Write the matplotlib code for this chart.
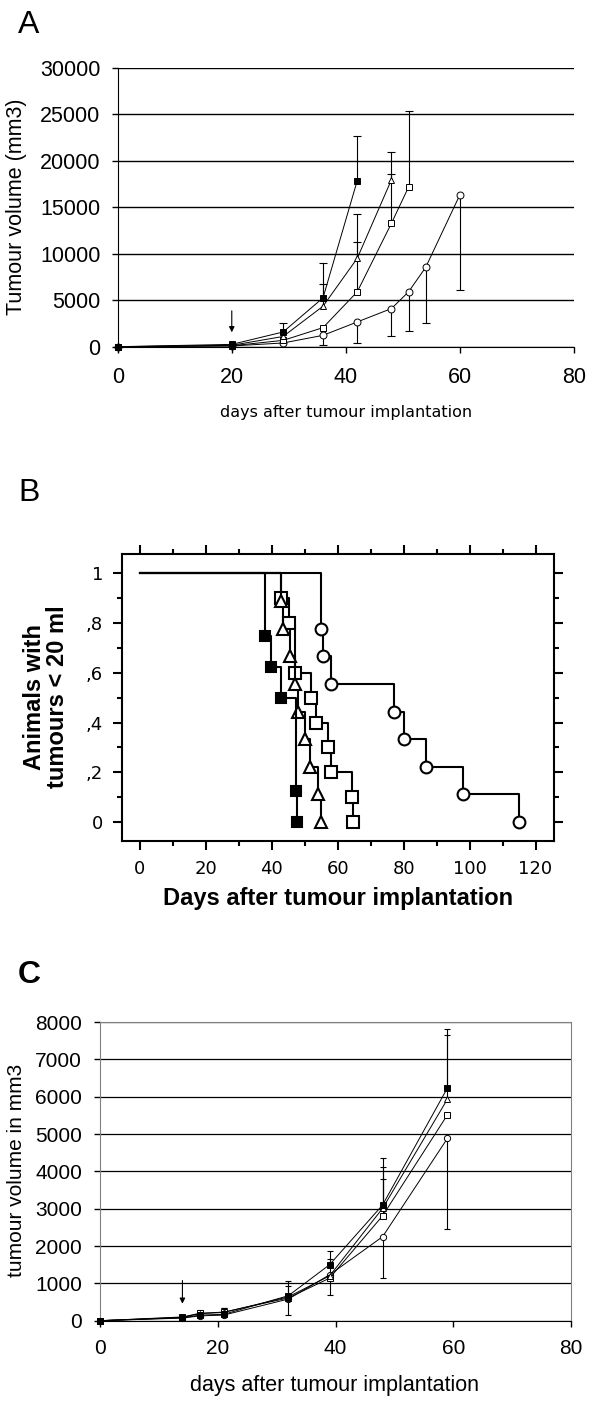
import matplotlib.pyplot as plt
import numpy as np

plt.rcParams['font.family'] = ['Liberation Sans', 'DejaVu Sans']

# ---------------- panel A: tumour volume ----------------
a_days_fill = [0, 20, 29, 36, 42]
a_vol_fill = [0, 250, 1580, 5250, 17850]
a_up_fill = [0, 0, 970, 3710, 4790]

a_days_tri = [0, 20, 29, 36, 42, 48]
a_vol_tri = [0, 150, 1100, 4350, 9500, 17950]
a_up_tri = [0, 0, 0, 2350, 4750, 2950]

a_days_sq = [0, 20, 29, 36, 42, 48, 51]
a_vol_sq = [0, 100, 680, 2050, 5900, 13270, 17160]
a_up_sq = [0, 0, 0, 0, 5400, 5290, 8130]

a_days_circ = [0, 20, 29, 36, 42, 48, 51, 54, 60]
a_vol_circ = [0, 80, 400, 1220, 2660, 4100, 5900, 8530, 16330]
a_low_circ = [0, 0, 0, 1080, 2230, 2990, 4250, 5980, 10250]

a_treat_day = 20
a_arrow = (4150, 1250)

# ---------------- panel B: Kaplan-Meier ----------------
b_t_fill = [38, 39.8, 42.8, 47.3, 47.7]
b_s_fill = [0.75, 0.625, 0.5, 0.125, 0]
b_t_tri = [42.8, 43.3, 45.4, 47.1, 47.8, 50, 51.7, 54, 54.8]
b_s_tri = [0.889, 0.778, 0.667, 0.556, 0.444, 0.333, 0.222, 0.111, 0]
b_t_sq = [42.8, 45.2, 46.9, 52, 53.3, 56.9, 58.1, 64.2, 64.7]
b_s_sq = [0.9, 0.8, 0.6, 0.5, 0.4, 0.3, 0.2, 0.1, 0]
b_t_circ = [55, 55.6, 58.1, 77, 80, 86.9, 97.9, 114.9]
b_s_circ = [0.778, 0.667, 0.556, 0.444, 0.333, 0.222, 0.111, 0]
b_yticks = [0, 0.2, 0.4, 0.6, 0.8, 1]
b_yticklabels = ['0', ',2', ',4', ',6', ',8', '1']

# ---------------- panel C: tumour volume ----------------
c_days = [0, 14, 17, 21, 32, 39, 48, 59]
c_vol_fill = [0, 80, 150, 170, 670, 1500, 3100, 6230]
c_up_fill = [0, 0, 120, 160, 400, 380, 1250, 1580]
c_vol_tri = [0, 90, 190, 220, 640, 1200, 3010, 5930]
c_up_tri = [0, 0, 100, 130, 280, 460, 1100, 1710]
c_vol_sq = [0, 100, 200, 230, 610, 1140, 2810, 5510]
c_up_sq = [0, 0, 0, 0, 0, 0, 980, 0]
c_vol_circ = [0, 70, 130, 150, 580, 1230, 2250, 4880]
c_low_circ = [0, 0, 0, 0, 440, 530, 1110, 2420]

c_treat_day = 14
c_arrow = (1150, 380)

W, H = 600, 1406


def box(left, top, right, bottom):
    return [left / W, 1 - bottom / H, (right - left) / W, (bottom - top) / H]


def series(ax, x, y, low, up, marker, face, ms=5, cap=3):
    x, y = np.array(x), np.array(y)
    low, up = np.array(low), np.array(up)
    k = (low > 0) | (up > 0)
    ax.vlines(x[k], y[k] - low[k], y[k] + up[k], color='k', lw=0.8, zorder=2)
    ku, kl = up > 0, low > 0
    ax.plot(x[ku], y[ku] + up[ku], ls='none', marker='_', ms=cap * 2, mew=0.8, color='k', zorder=2)
    ax.plot(x[kl], y[kl] - low[kl], ls='none', marker='_', ms=cap * 2, mew=0.8, color='k', zorder=2)
    ax.plot(x, y, color='k', lw=0.7, marker=marker, mfc=face, mec='k', ms=ms, mew=0.7,
            clip_on=False, zorder=3)


fig = plt.figure(figsize=(6, 14.06), dpi=100)

# panel A
ax = fig.add_axes(box(117.7, 67.5, 574, 346.7))
series(ax, a_days_circ, a_vol_circ, a_low_circ, [0] * len(a_days_circ), 'o', 'white')
series(ax, a_days_sq, a_vol_sq, [0] * len(a_days_sq), a_up_sq, 's', 'white')
series(ax, a_days_tri, a_vol_tri, [0] * len(a_days_tri), a_up_tri, '^', 'white')
series(ax, a_days_fill, a_vol_fill, [0] * len(a_days_fill), a_up_fill, 's', 'black')
ax.annotate('', xy=(a_treat_day, a_arrow[1]), xytext=(a_treat_day, a_arrow[0]),
            arrowprops=dict(arrowstyle='-|>', color='k', lw=0.8, mutation_scale=8))
ax.set_xlim(0, 80)
ax.set_ylim(0, 30000)
ax.set_xticks([0, 20, 40, 60, 80])
ax.set_yticks(range(0, 30001, 5000))
ax.grid(axis='y', color='k', lw=1)
ax.set_axisbelow(True)
for s in ['top', 'right']:
    ax.spines[s].set_visible(False)
ax.tick_params(direction='out', length=4, width=1, labelsize=15.5)
ax.tick_params(axis='x', pad=10.5)
ax.tick_params(axis='y', pad=8.5)
fig.text(17 / W, 1 - 207 / H, 'Tumour volume (mm3)', rotation=90, ha='center', va='center', fontsize=15.5)
fig.text(346 / W, 1 - 412 / H, 'days after tumour implantation', ha='center', va='center',
         fontsize=11.5, family='DejaVu Sans')
fig.text(29 / W, 1 - 25 / H, 'A', ha='center', va='center', fontsize=23)

# panel B
ax = fig.add_axes(box(121.7, 554, 554.3, 841))
for t, s, m, f, ms in [(b_t_circ, b_s_circ, 'o', 'white', 8.5),
                       (b_t_sq, b_s_sq, 's', 'white', 8.5),
                       (b_t_tri, b_s_tri, '^', 'white', 8.5),
                       (b_t_fill, b_s_fill, 's', 'black', 7.5)]:
    ax.step([0] + t, [1] + s, where='post', color='k', lw=1.5)
    ax.plot(t, s, ls='none', marker=m, mfc=f, mec='k', ms=ms, mew=1.5)
ax.set_xlim(-5.55, 125.7)
ax.set_ylim(-0.076, 1.078)
ax.set_xticks(range(0, 121, 20))
ax.set_xticks(range(10, 121, 20), minor=True)
ax.set_yticks(b_yticks)
ax.set_yticklabels(b_yticklabels)
ax.set_yticks(np.arange(0.1, 1.0, 0.2), minor=True)
for s in ax.spines.values():
    s.set_linewidth(1.5)
ax.tick_params(which='both', direction='out', top=True, right=True, width=1.5,
               labelsize=13, labelfontfamily='DejaVu Sans')
ax.tick_params(which='major', length=6.5, pad=7)
ax.tick_params(which='minor', length=3.4)
fig.text(338 / W, 1 - 898 / H, 'Days after tumour implantation', ha='center', va='center',
         fontsize=17, fontweight='bold')
fig.text(46.5 / W, 1 - 697 / H, 'Animals with\ntumours < 20 ml', rotation=90, ha='center',
         va='center', fontsize=17, fontweight='bold', linespacing=1.0)
fig.text(29 / W, 1 - 493 / H, 'B', ha='center', va='center', fontsize=23)

# panel C
ax = fig.add_axes(box(100, 1022, 571, 1320.7))
series(ax, c_days, c_vol_circ, c_low_circ, [0] * len(c_days), 'o', 'white', ms=4.5, cap=2.5)
series(ax, c_days, c_vol_sq, [0] * len(c_days), c_up_sq, 's', 'white', ms=4.5, cap=2.5)
series(ax, c_days, c_vol_tri, [0] * len(c_days), c_up_tri, '^', 'white', ms=4.5, cap=2.5)
series(ax, c_days, c_vol_fill, [0] * len(c_days), c_up_fill, 's', 'black', ms=4.5, cap=2.5)
ax.annotate('', xy=(c_treat_day, c_arrow[1]), xytext=(c_treat_day, c_arrow[0]),
            arrowprops=dict(arrowstyle='-|>', color='k', lw=0.8, mutation_scale=8))
ax.set_xlim(0, 80)
ax.set_ylim(0, 8000)
ax.set_xticks([0, 20, 40, 60, 80])
ax.set_yticks(range(0, 8001, 1000))
ax.grid(axis='y', color='k', lw=0.9)
ax.set_axisbelow(True)
for s in ['top', 'right', 'left']:
    ax.spines[s].set_color('#808080')
ax.tick_params(direction='out', length=4.5, width=1, labelsize=15)
ax.tick_params(axis='x', pad=8.5)
ax.tick_params(axis='y', pad=8.5)
fig.text(17 / W, 1 - 1170 / H, 'tumour volume in mm3', rotation=90, ha='center', va='center', fontsize=15)
fig.text(335 / W, 1 - 1385 / H, 'days after tumour implantation', ha='center', va='center', fontsize=15.5)
fig.text(29 / W, 1 - 975 / H, 'C', ha='center', va='center', fontsize=23, fontweight='bold')

fig.savefig('out.png', dpi=100)
